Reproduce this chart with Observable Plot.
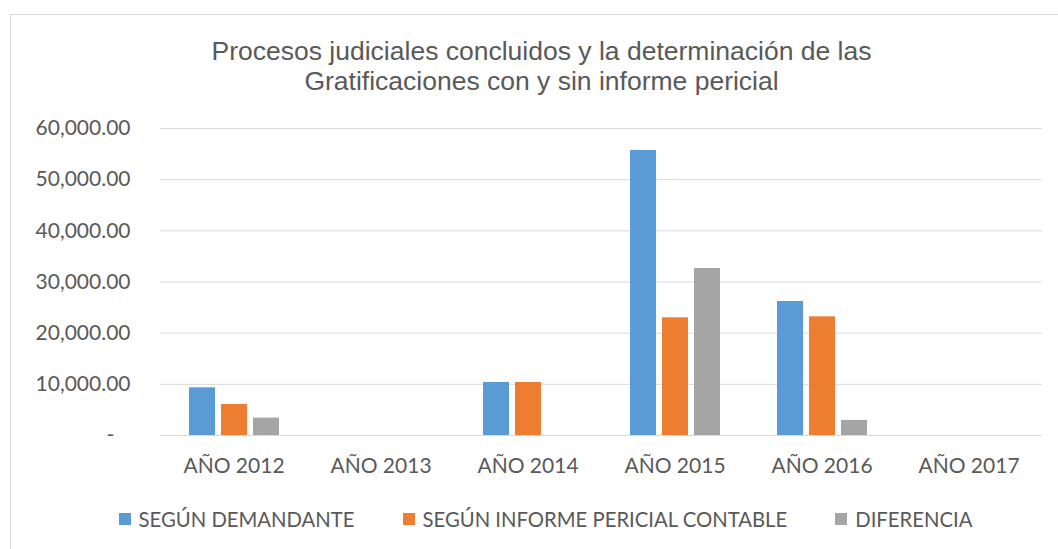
<!DOCTYPE html>
<html>
<head>
<meta charset="utf-8">
<script src="https://cdn.jsdelivr.net/npm/d3@7"></script>
<script src="https://cdn.jsdelivr.net/npm/@observablehq/plot@0.6"></script>
<style>
  html, body { margin: 0; padding: 0; background: #fff; }
  #wrap { position: relative; width: 1058px; height: 549px; overflow: hidden; background: #fff; }
  #frame { position: absolute; left: 10px; top: 14px; width: 1100px; height: 600px; border: 1px solid #d9d9d9; box-sizing: border-box; }
  #title { position: relative; width: 1058px; box-sizing: border-box; padding-top: 36px; padding-left: 25px; height: 96px;
           font-family: "Liberation Sans", Arial, sans-serif; font-size: 26.5px; line-height: 30px; color: #595959; text-align: center; }
  #chart { position: relative; height: 400px; }
  #chart svg { display: block; }
  #legend { position: relative; display: flex; justify-content: center; align-items: center; gap: 48px; width: 1058px; box-sizing: border-box;
            padding-left: 33px; padding-top: 11px; font-family: Lato, sans-serif; font-size: 20.3px; line-height: 24px; color: #595959; }
  .item { display: flex; align-items: center; white-space: nowrap; }
  .sw { width: 12px; height: 12px; margin-right: 8px; }
</style>
</head>
<body>
<div id="wrap">
  <div id="frame"></div>
  <div id="title">Procesos judiciales concluidos y la determinación de las<br>Gratificaciones con y sin informe pericial</div>
  <div id="chart"></div>
  <div id="legend"></div>
</div>
<script>
// ---- Data ----
const years = ["AÑO 2012", "AÑO 2013", "AÑO 2014", "AÑO 2015", "AÑO 2016", "AÑO 2017"];
const seriesNames = ["SEGÚN DEMANDANTE", "SEGÚN INFORME PERICIAL CONTABLE", "DIFERENCIA"];
const demandante = [9320, 0, 10360, 55700, 26190, 0];
const pericial   = [6060, 0, 10360, 23000, 23190, 0];
const diferencia = [3400, 0, 0, 32650, 2950, 0];
const seriesColors = ["#5B9BD5", "#ED7D31", "#A5A5A5"];
const yTicks = [0, 10000, 20000, 30000, 40000, 50000, 60000];

const valuesBySeries = [demandante, pericial, diferencia];
const rows = [];
years.forEach((yr, i) => {
  seriesNames.forEach((s, j) => {
    rows.push({ year: yr, series: s, value: valuesBySeries[j][i] });
  });
});

const fmt = d3.format(",.2f");

const plot = Plot.plot({
  width: 1058,
  height: 400,
  marginTop: 32,
  marginBottom: 61,
  marginLeft: 158,
  marginRight: 15,
  style: { fontFamily: "Lato, sans-serif", fontSize: "21px", color: "#595959", background: "transparent" },
  fx: { domain: years, padding: 0, label: null, axis: "bottom", tickSize: 0, tickPadding: 23 },
  x: { domain: seriesNames, paddingInner: 0.2, paddingOuter: 0.87, axis: null },
  y: { domain: [0, 60000], ticks: yTicks, tickSize: 0, tickPadding: 30, label: null,
       tickFormat: d => d === 0 ? "-\u00A0\u00A0\u00A0" : fmt(d) },
  color: { domain: seriesNames, range: seriesColors },
  marks: [
    Plot.gridY(yTicks, { stroke: "#d9d9d9", strokeOpacity: 1, strokeWidth: 1 }),
    Plot.barY(rows, { fx: "year", x: "series", y: "value", fill: "series" })
  ]
});
document.getElementById("chart").appendChild(plot);

const legend = document.getElementById("legend");
seriesNames.forEach((s, j) => {
  const it = document.createElement("div");
  it.className = "item";
  const sw = document.createElement("div");
  sw.className = "sw";
  sw.style.background = seriesColors[j];
  const t = document.createElement("span");
  t.textContent = s;
  it.appendChild(sw);
  it.appendChild(t);
  legend.appendChild(it);
});
</script>
</body>
</html>
